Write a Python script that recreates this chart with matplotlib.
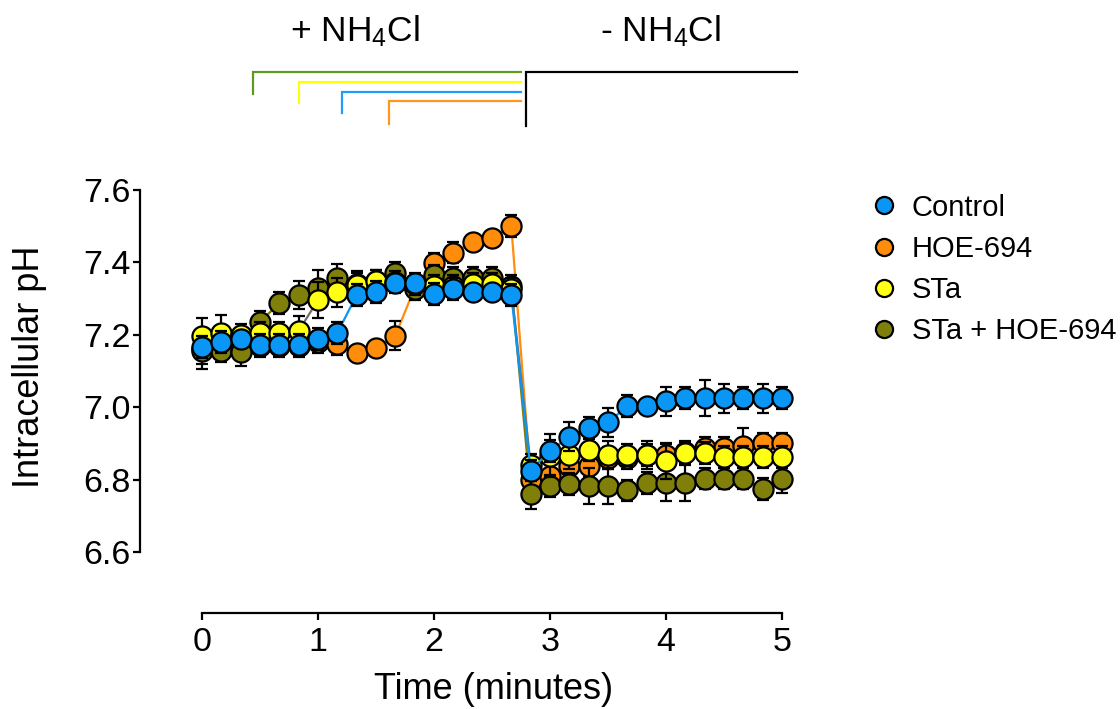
import numpy as np
import matplotlib
matplotlib.use('Agg')
import matplotlib.pyplot as plt
from matplotlib.transforms import blended_transform_factory

plt.rcParams['font.family'] = ['Liberation Sans', 'DejaVu Sans']
plt.rcParams['mathtext.fontset'] = 'custom'
plt.rcParams['mathtext.rm'] = 'Liberation Sans'
plt.rcParams['mathtext.it'] = 'Liberation Sans'

# tiempo en minutos (un punto cada 10 s)
tiempo = np.arange(31) / 6.0

control = [7.167, 7.181, 7.189, 7.173, 7.173, 7.173, 7.189, 7.205, 7.310, 7.318, 7.342,
           7.342, 7.312, 7.326, 7.318, 7.318, 7.310, 6.825, 6.880, 6.918, 6.942, 6.958,
           7.003, 7.003, 7.017, 7.025, 7.025, 7.025, 7.025, 7.025, 7.025]
control_err = [0.03, 0.03, 0.02, 0.03, 0.03, 0.03, 0.03, 0.03, 0.03, 0.03, 0.02,
               0.02, 0.03, 0.03, 0.02, 0.02, 0.03, 0.03, 0.03, 0.04, 0.03, 0.04,
               0.03, 0.01, 0.04, 0.03, 0.05, 0.04, 0.03, 0.04, 0.03]

hoe = [7.160, 7.170, 7.180, 7.170, 7.170, 7.170, 7.180, 7.175, 7.150, 7.164, 7.197,
       7.330, 7.397, 7.427, 7.455, 7.468, 7.500, 6.800, 6.810, 6.838, 6.838, 6.860,
       6.860, 6.868, 6.868, 6.877, 6.888, 6.888, 6.893, 6.900, 6.900]
hoe_err = [0.04, 0.03, 0.03, 0.03, 0.03, 0.03, 0.03, 0.03, 0.02, 0.02, 0.04,
           0.02, 0.03, 0.03, 0.02, 0.01, 0.03, 0.03, 0.03, 0.03, 0.03, 0.03,
           0.03, 0.03, 0.03, 0.03, 0.03, 0.03, 0.05, 0.03, 0.03]

sta = [7.197, 7.205, 7.200, 7.205, 7.205, 7.211, 7.296, 7.318, 7.337, 7.348, 7.345,
       7.340, 7.335, 7.335, 7.340, 7.340, 7.326, 6.840, 6.866, 6.868, 6.882, 6.868,
       6.868, 6.868, 6.852, 6.874, 6.874, 6.863, 6.863, 6.863, 6.863]
sta_err = [0.05, 0.05, 0.03, 0.03, 0.03, 0.04, 0.05, 0.04, 0.04, 0.03, 0.03,
           0.03, 0.03, 0.03, 0.03, 0.03, 0.03, 0.03, 0.06, 0.04, 0.03, 0.04,
           0.03, 0.04, 0.05, 0.03, 0.03, 0.03, 0.03, 0.03, 0.03]

sta_hoe = [7.156, 7.156, 7.153, 7.235, 7.288, 7.310, 7.328, 7.356, 7.340, 7.350, 7.372,
           7.326, 7.364, 7.356, 7.356, 7.356, 7.335, 6.760, 6.782, 6.788, 6.782, 6.782,
           6.770, 6.790, 6.790, 6.790, 6.803, 6.803, 6.803, 6.774, 6.803]
sta_hoe_err = [0.05, 0.03, 0.04, 0.03, 0.03, 0.04, 0.05, 0.04, 0.03, 0.03, 0.03,
               0.03, 0.03, 0.03, 0.03, 0.03, 0.03, 0.04, 0.03, 0.03, 0.05, 0.05,
               0.03, 0.03, 0.05, 0.05, 0.03, 0.03, 0.03, 0.03, 0.04]

# inicio de cada tratamiento (minutos) para los corchetes de arriba
inicio_tratamiento = {'STa + HOE-694': 0.44, 'STa': 0.84, 'Control': 1.21, 'HOE-694': 1.61}
fin_nh4cl = 2.79

azul = '#0A96F5'
naranja = '#FF8C0A'
amarillo = '#FFFF14'
oliva = '#7F7F0A'

fig = plt.figure(figsize=(11.2, 7.09), dpi=100)
ax = fig.add_axes([140/1120, 1 - 613/709, 642/1120, 423/709])

# orden de dibujo: naranja abajo, azul arriba
series = [
    ('HOE-694', hoe, hoe_err, naranja, naranja, 2),
    ('STa + HOE-694', sta_hoe, sta_hoe_err, oliva, oliva, 3),
    ('STa', sta, sta_err, amarillo, '#707070', 4),
    ('Control', control, control_err, azul, azul, 5),
]
handles = {}
for nombre, y, err, color, color_linea, z in series:
    ax.plot(tiempo, y, '-', color=color_linea, lw=1.6, zorder=z, clip_on=False)
    ax.errorbar(tiempo, y, yerr=err, fmt='none', ecolor='black', elinewidth=1.6,
                capsize=4, capthick=1.6, zorder=z, clip_on=False)
    h, = ax.plot(tiempo, y, 'o', ms=14.5, mfc=color, mec='black', mew=1.6,
                 zorder=z + 0.5, clip_on=False, label=nombre)
    handles[nombre] = h

ax.set_xlim(-0.5345, 5.0)
ax.set_ylim(6.6 - 61/362, 7.6)
ax.spines['top'].set_visible(False)
ax.spines['right'].set_visible(False)
ax.spines['left'].set_bounds(6.6, 7.6)
ax.spines['bottom'].set_bounds(0, 5)
ax.spines['left'].set_linewidth(1.6)
ax.spines['bottom'].set_linewidth(1.6)
ax.set_xticks([0, 1, 2, 3, 4, 5])
ax.set_yticks([6.6, 6.8, 7.0, 7.2, 7.4, 7.6])
ax.set_yticklabels(['6.6', '6.8', '7.0', '7.2', '7.4', '7.6'])
ax.tick_params(direction='out', length=5, width=1.6, labelsize=24.5, pad=2)
ax.tick_params(axis='x', pad=5)
ax.set_xlabel('Time (minutes)', fontsize=26, labelpad=10, x=0.55)
ax.set_ylabel('Intracellular pH', fontsize=26, labelpad=26, y=0.582)

orden = ['Control', 'HOE-694', 'STa', 'STa + HOE-694']
ax.legend([handles[n] for n in orden], orden, loc='upper left',
          bbox_to_anchor=(855/642 - 140/642, 1 + 8/423), frameon=False,
          fontsize=21, handletextpad=0.35, labelspacing=0.45, markerscale=0.85,
          handlelength=1.2, borderaxespad=0)

# corchetes de tratamiento arriba del grafico
tr = blended_transform_factory(ax.transData, fig.transFigure)
colores_corchete = {'STa + HOE-694': '#5E9A1E', 'STa': '#FFFF00',
                    'Control': '#1E9BFF', 'HOE-694': '#FF961E'}
alturas = {'STa + HOE-694': (72, 94), 'STa': (82, 103),
           'Control': (92, 113), 'HOE-694': (101, 124)}
for nombre in ['STa + HOE-694', 'STa', 'Control', 'HOE-694']:
    x0 = inicio_tratamiento[nombre]
    ya, yb = alturas[nombre]
    ax.plot([x0, x0, 2.75], [1 - yb/709, 1 - ya/709, 1 - ya/709], color=colores_corchete[nombre],
            lw=1.6, transform=tr, clip_on=False, solid_joinstyle='miter')
ax.plot([fin_nh4cl, fin_nh4cl, 5.13], [1 - 126/709, 1 - 72/709, 1 - 72/709], color='black',
        lw=1.6, transform=tr, clip_on=False, solid_joinstyle='miter')

fig.text(355/1120, 1 - 31/709, '+ NH$_4$Cl', fontsize=25.5, ha='center', va='center')
fig.text(660/1120, 1 - 31/709, '- NH$_4$Cl', fontsize=25.5, ha='center', va='center')

fig.savefig('out.png', dpi=100)
